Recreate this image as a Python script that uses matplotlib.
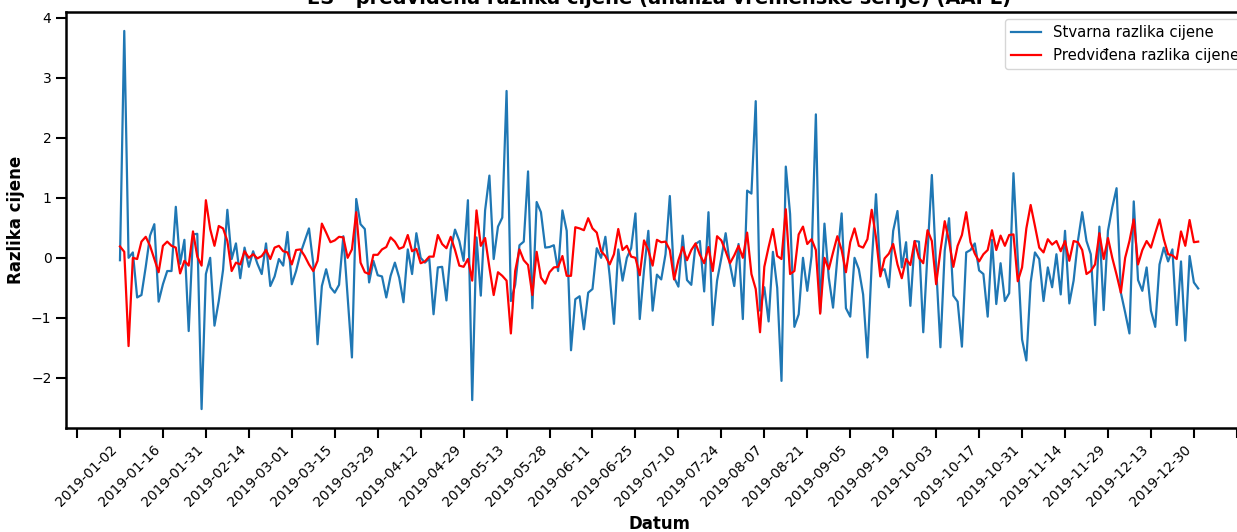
import numpy as np
import matplotlib
matplotlib.use('Agg')
import matplotlib.pyplot as plt

tick_labels = ['2019-01-02', '2019-01-16', '2019-01-31', '2019-02-14', '2019-03-01',
               '2019-03-15', '2019-03-29', '2019-04-12', '2019-04-29', '2019-05-13',
               '2019-05-28', '2019-06-11', '2019-06-25', '2019-07-10', '2019-07-24',
               '2019-08-07', '2019-08-21', '2019-09-05', '2019-09-19', '2019-10-03',
               '2019-10-17', '2019-10-31', '2019-11-14', '2019-11-29', '2019-12-13',
               '2019-12-30']

actual = [
    -0.04, 3.78, 0.0, 0.09, -0.66, -0.62, -0.15, 0.37, 0.56, -0.73,
    -0.44, -0.22, -0.22, 0.85, -0.1, 0.3, -1.22, 0.39, 0.4, -2.52,
    -0.27, 0.0, -1.13, -0.72, -0.2, 0.8, -0.02, 0.24, -0.34, 0.17,
    -0.15, 0.11, -0.1, -0.27, 0.24, -0.47, -0.31, -0.02, -0.13, 0.43,
    -0.44, -0.22, 0.07, 0.28, 0.49, -0.1, -1.44, -0.47, -0.19, -0.49,
    -0.58, -0.45, 0.36, -0.65, -1.66, 0.98, 0.56, 0.48, -0.41, -0.05,
    -0.29, -0.31, -0.66, -0.3, -0.08, -0.33, -0.74, 0.14, -0.27, 0.41,
    0.0, -0.08, -0.01, -0.94, -0.16, -0.15, -0.71, 0.14, 0.47, 0.28,
    -0.05, 0.96, -2.37, 0.34, -0.63, 0.79, 1.37, -0.02, 0.52, 0.67,
    2.78, -0.72, -0.45, 0.21, 0.27, 1.44, -0.84, 0.93, 0.76, 0.17,
    0.18, 0.21, -0.22, 0.79, 0.45, -1.54, -0.69, -0.64, -1.19, -0.58,
    -0.52, 0.16, 0.0, 0.35, -0.3, -1.1, 0.14, -0.38, 0.0, 0.16,
    0.74, -1.02, -0.2, 0.45, -0.88, -0.28, -0.36, 0.06, 1.03, -0.33,
    -0.48, 0.37, -0.37, -0.45, 0.23, 0.28, -0.56, 0.76, -1.12, -0.38,
    0.0, 0.41, -0.11, -0.47, 0.23, -1.02, 1.12, 1.07, 2.61, -0.88,
    -0.49, -1.06, 0.1, -0.5, -2.05, 1.52, 0.73, -1.15, -0.94, 0.0,
    -0.55, 0.03, 2.39, -0.91, 0.57, -0.33, -0.83, 0.0, 0.74, -0.84,
    -0.98, 0.0, -0.19, -0.61, -1.66, -0.1, 1.06, -0.22, -0.19, -0.49,
    0.45, 0.78, -0.16, 0.26, -0.8, 0.28, 0.27, -1.24, 0.1, 1.38,
    -0.15, -1.49, 0.12, 0.66, -0.63, -0.73, -1.48, 0.09, 0.13, 0.24,
    -0.21, -0.27, -0.98, 0.3, -0.77, -0.09, -0.72, -0.59, 1.41, 0.0,
    -1.36, -1.71, -0.41, 0.09, -0.02, -0.72, -0.16, -0.49, 0.06, -0.61,
    0.45, -0.76, -0.38, 0.28, 0.76, 0.28, 0.06, -1.12, 0.52, -0.87,
    0.45, 0.84, 1.16, -0.58, -0.91, -1.26, 0.94, -0.37, -0.55, -0.16,
    -0.88, -1.15, -0.11, 0.17, -0.06, 0.14, -1.12, -0.06, -1.38, 0.03,
    -0.41, -0.51]

predicted = [
    0.19, 0.1, -1.47, 0.0, -0.02, 0.27, 0.35, 0.2, -0.02, -0.24,
    0.2, 0.27, 0.2, 0.17, -0.26, -0.05, -0.13, 0.44, 0.02, -0.13,
    0.96, 0.48, 0.2, 0.53, 0.49, 0.28, -0.22, -0.08, -0.11, 0.11,
    0.0, 0.06, -0.01, 0.03, 0.13, -0.02, 0.17, 0.2, 0.11, 0.09,
    -0.11, 0.13, 0.14, 0.03, -0.11, -0.22, -0.05, 0.57, 0.42, 0.26,
    0.29, 0.35, 0.34, 0.0, 0.14, 0.76, -0.08, -0.24, -0.27, 0.05,
    0.05, 0.14, 0.18, 0.34, 0.27, 0.15, 0.18, 0.38, 0.11, 0.15,
    -0.09, -0.06, 0.02, 0.02, 0.38, 0.23, 0.16, 0.35, 0.13, -0.13,
    -0.15, -0.02, -0.38, 0.79, 0.2, 0.33, -0.16, -0.62, -0.24, -0.3,
    -0.38, -1.26, -0.22, 0.14, -0.04, -0.12, -0.62, 0.1, -0.33, -0.43,
    -0.24, -0.16, -0.15, 0.03, -0.3, -0.3, 0.51, 0.49, 0.46, 0.66,
    0.49, 0.42, 0.11, 0.03, -0.11, 0.06, 0.48, 0.13, 0.2, 0.02,
    0.0, -0.29, 0.29, 0.13, -0.13, 0.3, 0.26, 0.27, 0.13, -0.36,
    -0.04, 0.18, -0.04, 0.13, 0.24, 0.05, -0.09, 0.18, -0.22, 0.36,
    0.29, 0.11, -0.09, 0.04, 0.2, 0.0, 0.42, -0.27, -0.52, -1.24,
    -0.15, 0.18, 0.48, 0.03, -0.02, 0.81, -0.27, -0.22, 0.39, 0.52,
    0.23, 0.31, 0.13, -0.93, 0.0, -0.19, 0.09, 0.36, 0.13, -0.24,
    0.26, 0.49, 0.2, 0.17, 0.31, 0.8, 0.34, -0.31, -0.01, 0.07,
    0.23, -0.11, -0.34, -0.02, -0.12, 0.28, 0.0, -0.09, 0.46, 0.28,
    -0.44, 0.12, 0.61, 0.28, -0.15, 0.2, 0.38, 0.76, 0.26, 0.07,
    -0.06, 0.06, 0.13, 0.46, 0.13, 0.37, 0.2, 0.38, 0.39, -0.39,
    -0.16, 0.49, 0.88, 0.53, 0.17, 0.09, 0.31, 0.22, 0.28, 0.11,
    0.28, -0.05, 0.28, 0.26, 0.13, -0.27, -0.22, -0.11, 0.41, -0.02,
    0.33, 0.0, -0.28, -0.58, 0.0, 0.28, 0.64, -0.11, 0.13, 0.28,
    0.17, 0.41, 0.64, 0.31, 0.06, 0.04, -0.02, 0.44, 0.2, 0.63,
    0.26, 0.27]

fig = plt.figure(figsize=(12.37, 5.32), dpi=100)
ax = fig.add_axes([0.0534, 0.1955, 0.9588, 0.7819])

x = np.arange(len(actual))
ax.plot(x, actual, color='#1f77b4', lw=1.6, label='Stvarna razlika cijene')
ax.plot(x, predicted, color='red', lw=1.6, label='Predviđena razlika cijene')

ax.set_title('ES - predviđena razlika cijene (analiza vremenske serije) (AAPL)',
             fontsize=14, fontweight='bold')
ax.set_xlabel('Datum', fontsize=12, fontweight='bold')
ax.set_ylabel('Razlika cijene', fontsize=12, fontweight='bold')

ticks = np.arange(-10, 10 * len(tick_labels) + 1, 10)
labels = [''] + tick_labels + ['']
ax.set_xticks(ticks)
ax.set_xticklabels(labels, rotation=45, ha='right')
ax.set_xlim(-12.55, len(actual) - 1 + 12.55)

ax.legend(loc='upper right', fontsize=10.7)
for s in ax.spines.values():
    s.set_linewidth(1.8)
ax.tick_params(length=7, width=1.5, labelsize=10)

fig.savefig('out.png', dpi=100)
